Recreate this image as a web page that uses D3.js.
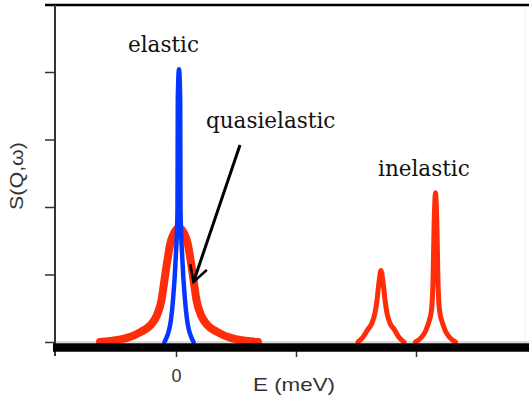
<!DOCTYPE html>
<meta charset="utf-8">
<style>
body { margin: 0; background: #fff; }
.axis path { display: none; }
.tick line { stroke: #333; stroke-width: 1.5px; }
.label { font-family: "DejaVu Serif", serif; font-size: 21.5px; fill: #111; }
.sans { font-family: "Liberation Sans", Arial, sans-serif; fill: #333; }
</style>
<body>
<script src="https://cdn.jsdelivr.net/npm/d3@7"></script>
<script>

var width = 529,
    height = 399;

// energy (meV) and S(Q,w), one pair of arrays per peak
var elasticE = [-0.096, -0.0875, -0.042, -0.025, -0.003, 0.0125, 0.015, 0.025, 0.035, 0.0375, 0.053, 0.075, 0.092, 0.1375, 0.146],
    elasticS = [0, 0.03, 0.33, 0.62, 1.22, 1.96, 3.59, 4.04, 3.59, 1.96, 1.22, 0.62, 0.33, 0.03, 0];

var quasiE = [-0.633, -0.408, -0.292, -0.2125, -0.158, -0.121, -0.096, -0.071, -0.04, 0.025, 0.09, 0.121, 0.146, 0.171, 0.208, 0.2625, 0.342, 0.458, 0.683],
    quasiS = [0, 0.06, 0.15, 0.25, 0.40, 0.62, 0.92, 1.22, 1.51, 1.69, 1.51, 1.22, 0.92, 0.62, 0.40, 0.25, 0.15, 0.06, 0];

var inel1E = [1.516, 1.558, 1.596, 1.633, 1.658, 1.675, 1.692, 1.708, 1.725, 1.742, 1.758, 1.783, 1.821, 1.858, 1.9],
    inel1S = [0, 0.07, 0.18, 0.28, 0.43, 0.62, 0.89, 1.06, 0.89, 0.62, 0.43, 0.28, 0.18, 0.07, 0];

var inel2E = [1.996, 2.046, 2.079, 2.104, 2.129, 2.142, 2.15, 2.1625, 2.175, 2.183, 2.196, 2.221, 2.246, 2.279, 2.329],
    inel2S = [0, 0.07, 0.16, 0.28, 0.47, 0.92, 1.66, 2.21, 1.66, 0.92, 0.47, 0.28, 0.16, 0.07, 0];

var xTicks = [0, 1, 2],
    yTicks = [0, 1, 2, 3, 4];

var x = d3.scaleLinear().domain([-1, 3]).range([56, 536]),
    y = d3.scaleLinear().domain([0, 5]).range([342, 4.5]);

var svg = d3.select("body").append("svg")
    .attr("width", width)
    .attr("height", height);

svg.append("defs").append("marker")
    .attr("id", "head")
    .attr("viewBox", "0 0 12 12")
    .attr("refX", 10).attr("refY", 6)
    .attr("markerWidth", 7).attr("markerHeight", 7)
    .attr("markerUnits", "strokeWidth")
    .attr("orient", "auto")
  .append("path")
    .attr("d", "M1,1 L10,6 L1,11")
    .attr("fill", "none")
    .attr("stroke", "#000")
    .attr("stroke-width", 1.5);

// frame: faint right edge, top rule, y axis
svg.append("line")
    .attr("x1", 525).attr("x2", 525).attr("y1", 6).attr("y2", 340)
    .attr("stroke", "#eee").attr("stroke-width", 1);
svg.append("line")
    .attr("x1", 45).attr("x2", width).attr("y1", 5).attr("y2", 5)
    .attr("stroke", "#000").attr("stroke-width", 2.5);
svg.append("line")
    .attr("x1", 55).attr("x2", 55).attr("y1", 5).attr("y2", 356)
    .attr("stroke", "#333").attr("stroke-width", 2);
svg.append("line")
    .attr("x1", 56).attr("x2", width).attr("y1", y(0)).attr("y2", y(0))
    .attr("stroke", "#bbb").attr("stroke-width", 1);

svg.append("g")
    .attr("class", "axis")
    .attr("transform", "translate(55,0)")
    .call(d3.axisLeft(y).tickValues(yTicks).tickSize(10).tickFormat(""));

svg.append("g")
    .attr("class", "axis sans")
    .attr("transform", "translate(0,351)")
    .call(d3.axisBottom(x).tickValues(xTicks).tickSize(6).tickPadding(12)
      .tickFormat(function(d) { return d === 0 ? "0" : ""; }))
    .selectAll("text")
    .attr("class", "sans")
    .style("font-size", "18px");

var line = d3.line()
    .x(function(d) { return x(d[0]); })
    .y(function(d) { return y(d[1]); })
    .curve(d3.curveMonotoneX);

function pairs(e, s) { return e.map(function(v, i) { return [v, s[i]]; }); }

svg.append("path")
    .datum(pairs(quasiE, quasiS))
    .attr("d", line)
    .attr("fill", "none").attr("stroke", "#ff2d0a")
    .attr("stroke-width", 8).attr("stroke-linejoin", "round").attr("stroke-linecap", "round");

[pairs(inel1E, inel1S), pairs(inel2E, inel2S)].forEach(function(p) {
  svg.append("path")
      .datum(p)
      .attr("d", line)
      .attr("fill", "none").attr("stroke", "#ff2d0a")
      .attr("stroke-width", 5).attr("stroke-linejoin", "round").attr("stroke-linecap", "round");
});

svg.append("path")
    .datum(pairs(elasticE, elasticS))
    .attr("d", line)
    .attr("fill", "none").attr("stroke", "#0536ff")
    .attr("stroke-width", 4.5).attr("stroke-linejoin", "round").attr("stroke-linecap", "round");

// thick baseline over the feet of the peaks
svg.append("line")
    .attr("x1", 53).attr("x2", width).attr("y1", 347.5).attr("y2", 347.5)
    .attr("stroke", "#000").attr("stroke-width", 8.5);

// arrow to the quasielastic peak
svg.append("line")
    .attr("x1", 240).attr("y1", 145).attr("x2", 193.5).attr("y2", 282)
    .attr("stroke", "#000").attr("stroke-width", 3)
    .attr("marker-end", "url(#head)");

svg.append("text").attr("class", "label").attr("x", 128).attr("y", 52).text("elastic");
svg.append("text").attr("class", "label").attr("x", 206).attr("y", 128).text("quasielastic");
svg.append("text").attr("class", "label").attr("x", 378).attr("y", 176).text("inelastic");

svg.append("text")
    .attr("class", "sans")
    .attr("x", 253).attr("y", 391)
    .attr("textLength", 82).attr("lengthAdjust", "spacingAndGlyphs")
    .style("font-size", "18.5px")
    .text("E (meV)");

svg.append("text")
    .attr("class", "sans")
    .attr("transform", "translate(23,176) rotate(-90)")
    .attr("text-anchor", "middle")
    .attr("textLength", 68).attr("lengthAdjust", "spacingAndGlyphs")
    .style("font-size", "18px")
    .text("S(Q,\u03c9)");

</script>
